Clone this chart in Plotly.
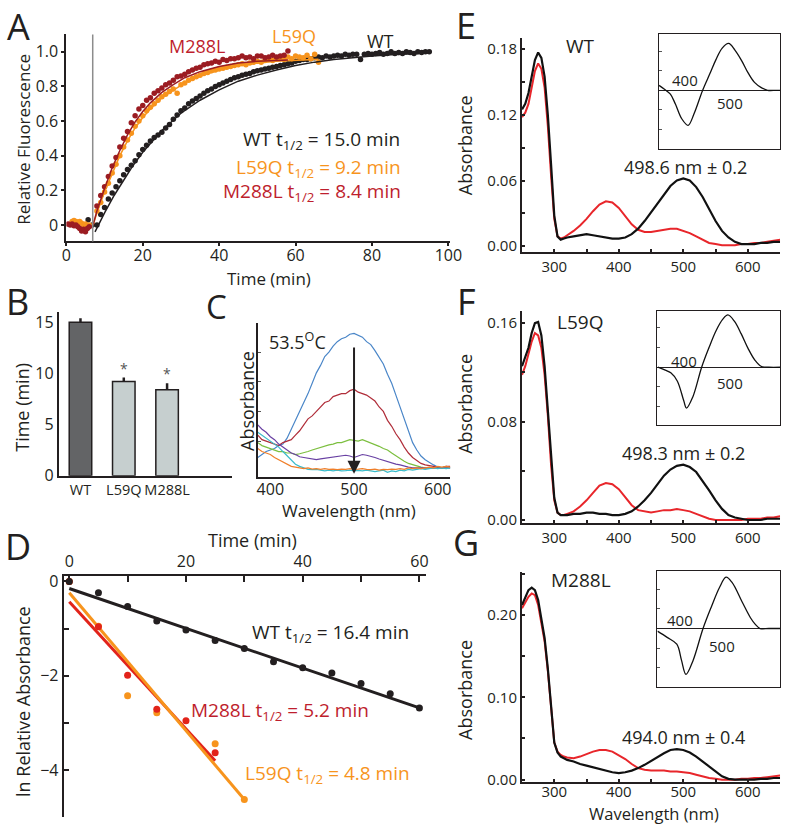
import plotly.graph_objects as go

W, H = 796, 835
FONT = "Open Sans"
BLACK = "#231F20"
ORANGE = "#F7941D"
DARKRED = "#9B1C22"
CRIMSON = "#BE1E2D"
RED = "#E2231A"
SPECRED = "#E8262B"


def px(x):
    return x / W


def py(y):
    return 1 - y / H


# ---------------- Panel A data ----------------
a_injection_time = 6.9
a_wt_time = [5.7, 6.8] + list(range(8, 96))
a_wt_val = [0.03, 0.0,
            0.00, 0.06, 0.10, 0.15, 0.185, 0.22, 0.255, 0.29, 0.32, 0.345,
            0.37, 0.405, 0.435, 0.46, 0.485, 0.505, 0.52, 0.535, 0.56, 0.58,
            0.61, 0.635, 0.66, 0.675, 0.70, 0.715, 0.73, 0.745, 0.76, 0.775,
            0.785, 0.80, 0.81, 0.82, 0.83, 0.84, 0.85, 0.855, 0.865, 0.87,
            0.875, 0.885, 0.89, 0.895, 0.90, 0.905, 0.91, 0.915, 0.92, 0.925,
            0.93, 0.935, 0.945, 0.95, 0.955, 0.955, 0.96, 0.965, 0.97, 0.965,
            0.975, 0.97, 0.975, 0.98, 0.975, 0.985, 0.98, 0.985, 0.985, 0.955,
            0.985, 0.99, 0.985, 0.99, 0.995, 0.985, 0.99, 1.0, 0.99, 0.995,
            0.99, 1.0, 0.995, 0.99, 1.0, 0.995, 1.0, 1.0]
a_l59q_time = [1.5, 2, 2.5, 3, 3.5, 4, 4.5, 5, 5.5, 6] + list(range(8, 67))
a_l59q_val = [0.02, 0.025, 0.02, 0.015, 0.02, 0.01, 0.0, 0.005, -0.01, 0.0,
              0.08, 0.13, 0.19, 0.24, 0.30, 0.35, 0.40, 0.45, 0.49, 0.53,
              0.57, 0.60, 0.63, 0.66, 0.68, 0.70, 0.72, 0.74, 0.755, 0.77,
              0.785, 0.76, 0.81, 0.82, 0.835, 0.845, 0.855, 0.865, 0.875, 0.88,
              0.89, 0.895, 0.90, 0.905, 0.91, 0.915, 0.92, 0.925, 0.93, 0.925,
              0.935, 0.94, 0.945, 0.94, 0.95, 0.955, 0.95, 0.96, 0.965, 0.955,
              0.97, 0.96, 0.975, 0.97, 0.965, 0.98, 0.96, 0.985, 0.94]
a_m288l_time = [0.5, 1, 1.5, 2, 2.5, 3, 3.5, 4, 4.5, 5, 5.5, 6] + list(range(8, 59))
a_m288l_val = [0.005, 0.0, 0.005, -0.005, 0.0, -0.01, -0.02, -0.035, -0.025, -0.04, -0.02, -0.01,
               0.11, 0.17, 0.22, 0.28, 0.34, 0.39, 0.45, 0.50, 0.54, 0.59,
               0.63, 0.67, 0.69, 0.72, 0.735, 0.76, 0.775, 0.79, 0.81, 0.82,
               0.835, 0.855, 0.86, 0.87, 0.885, 0.895, 0.905, 0.91, 0.925, 0.93,
               0.935, 0.945, 0.94, 0.955, 0.95, 0.96, 0.96, 0.965, 0.975, 0.965,
               0.97, 0.96, 0.975, 0.975, 0.965, 0.97, 0.98, 0.97, 0.975, 0.98,
               1.005]
a_wt_fit_time = [7.5, 10, 12.5, 15, 17.5, 20, 25, 30, 35, 40, 45, 50, 55, 60, 65, 70, 75, 80, 85, 90, 95]
a_wt_fit_val = [-0.04, 0.07, 0.17, 0.26, 0.345, 0.42, 0.545, 0.645, 0.72, 0.78, 0.83, 0.865,
                0.895, 0.92, 0.94, 0.955, 0.967, 0.976, 0.983, 0.988, 0.992]
a_l59q_fit_time = [7, 8, 10, 12, 14, 16, 18, 20, 22, 25, 28, 31, 35, 40, 45, 50, 55, 60, 66]
a_l59q_fit_val = [0.0, 0.07, 0.19, 0.30, 0.40, 0.485, 0.56, 0.62, 0.67, 0.735, 0.78, 0.82,
                  0.86, 0.895, 0.92, 0.935, 0.945, 0.952, 0.957]
a_m288l_fit_time = [7, 8, 10, 12, 14, 16, 18, 20, 22, 25, 28, 31, 35, 40, 45, 50, 55, 58]
a_m288l_fit_val = [0.0, 0.08, 0.21, 0.33, 0.43, 0.52, 0.595, 0.655, 0.705, 0.765, 0.81, 0.85,
                   0.885, 0.915, 0.935, 0.945, 0.95, 0.953]

# ---------------- Panel B data ----------------
b_categories = ["WT", "L59Q", "M288L"]
b_values = [15.0, 9.2, 8.4]
b_errors = [0.4, 0.4, 0.65]
b_colors = ["#636466", "#C6CFCF", "#C6CFCF"]
b_significant = [False, True, True]

# ---------------- Panel C data ----------------
c_wavelength = list(range(385, 616, 5))
c_blue = [0.09, 0.11, 0.13, 0.14, 0.15, 0.17, 0.18, 0.22, 0.28, 0.33,
          0.39, 0.46, 0.52, 0.59, 0.66, 0.71, 0.77, 0.80, 0.84, 0.87,
          0.89, 0.90, 0.92, 0.925, 0.91, 0.90, 0.87, 0.85, 0.81, 0.76,
          0.72, 0.65, 0.59, 0.51, 0.43, 0.35, 0.26, 0.19, 0.14, 0.10,
          0.075, 0.055, 0.04, 0.025, 0.02, 0.03, 0.02]
c_red = [0.24, 0.21, 0.20, 0.19, 0.18, 0.17, 0.19, 0.20, 0.21, 0.24,
         0.27, 0.31, 0.35, 0.37, 0.40, 0.43, 0.46, 0.47, 0.50, 0.51,
         0.52, 0.52, 0.54, 0.55, 0.53, 0.52, 0.51, 0.49, 0.47, 0.43,
         0.40, 0.34, 0.30, 0.25, 0.21, 0.16, 0.12, 0.09, 0.07, 0.05,
         0.04, 0.035, 0.03, 0.03, 0.02, 0.03, 0.03]
c_green = [0.19, 0.17, 0.16, 0.15, 0.14, 0.13, 0.13, 0.12, 0.12, 0.11,
           0.115, 0.12, 0.13, 0.14, 0.15, 0.16, 0.17, 0.175, 0.18, 0.19,
           0.19, 0.20, 0.21, 0.205, 0.20, 0.21, 0.20, 0.19, 0.18, 0.165,
           0.15, 0.14, 0.12, 0.10, 0.085, 0.065, 0.05, 0.04, 0.03, 0.025,
           0.02, 0.02, 0.02, 0.025, 0.02, 0.025, 0.02]
c_purple = [0.31, 0.28, 0.26, 0.23, 0.21, 0.18, 0.16, 0.14, 0.12, 0.11,
            0.095, 0.09, 0.085, 0.08, 0.075, 0.08, 0.085, 0.09, 0.09, 0.095,
            0.10, 0.105, 0.10, 0.09, 0.10, 0.11, 0.105, 0.10, 0.09, 0.08,
            0.07, 0.065, 0.055, 0.045, 0.04, 0.03, 0.025, 0.02, 0.02, 0.025,
            0.02, 0.02, 0.025, 0.02, 0.02, 0.025, 0.02]
c_cyan = [0.26, 0.24, 0.22, 0.20, 0.18, 0.16, 0.13, 0.10, 0.07, 0.045,
          0.03, 0.02, 0.01, 0.008, 0.01, 0.005, 0.0, 0.005, 0.0, 0.005,
          0.0, 0.002, 0.005, 0.0, 0.003, 0.0, 0.005, 0.0, -0.005, 0.0,
          0.005, -0.01, 0.0, -0.005, 0.005, 0.0, 0.01, 0.005, 0.01, 0.015,
          0.01, 0.015, 0.02, 0.015, 0.02, 0.015, 0.02]
c_orange = [0.15, 0.13, 0.12, 0.11, 0.09, 0.075, 0.06, 0.045, 0.03, 0.025,
            0.02, 0.015, 0.02, 0.012, 0.015, 0.01, 0.015, 0.01, 0.012, 0.008,
            0.012, 0.01, 0.015, 0.01, 0.012, 0.015, 0.01, 0.008, 0.012, 0.005,
            0.01, 0.008, 0.012, 0.01, 0.015, 0.01, 0.02, 0.015, 0.02, 0.015,
            0.02, 0.025, 0.02, 0.03, 0.025, 0.03, 0.025]
c_series = [("#4A86C8", c_blue), ("#B02E3A", c_red), ("#7CBF3F", c_green),
            ("#6941A3", c_purple), ("#3BBCCB", c_cyan), ("#F07F2A", c_orange)]
c_arrow_wavelength = 500
c_arrow_from = 0.84
c_arrow_to = -0.02

# ---------------- Panel D data ----------------
d_wt_time = [0, 5, 10, 15, 20, 25, 30, 35, 40, 45, 50, 55, 60]
d_wt_val = [0.0, -0.24, -0.53, -0.84, -1.03, -1.25, -1.42, -1.70, -1.83, -1.94, -2.16, -2.38, -2.68]
d_wt_fit_time = [0, 60]
d_wt_fit_val = [-0.15, -2.68]
d_l59q_time = [0, 5, 10, 15, 25, 30]
d_l59q_val = [0.0, -0.95, -2.42, -2.78, -3.44, -4.62]
d_l59q_fit_time = [0, 30]
d_l59q_fit_val = [-0.24, -4.62]
d_m288l_time = [0, 5, 10, 15, 20, 25]
d_m288l_val = [0.0, -0.96, -1.99, -2.71, -2.95, -3.63]
d_m288l_fit_time = [0, 25]
d_m288l_fit_val = [-0.43, -3.80]

# ---------------- Panels E, F, G data ----------------
spec_wl = [250, 255, 260, 265, 270, 275, 280, 285, 290, 295, 300, 305, 310, 315, 320,
           330, 340, 350, 360, 370, 380, 390, 400, 410, 420,
           430, 440, 450, 460, 470, 480, 490, 500, 510, 520,
           530, 540, 550, 560, 570, 580, 590, 600, 610, 620,
           630, 640, 650]
e_dark = [0.125, 0.13, 0.14, 0.155, 0.17, 0.177, 0.172, 0.155, 0.12, 0.075, 0.028, 0.009, 0.006, 0.007, 0.008,
          0.009, 0.010, 0.011, 0.010, 0.009, 0.008, 0.007, 0.007, 0.008, 0.011,
          0.016, 0.023, 0.031, 0.040, 0.048, 0.055, 0.060, 0.062, 0.060, 0.054,
          0.045, 0.034, 0.023, 0.014, 0.008, 0.004, 0.002, 0.002, 0.002, 0.003,
          0.003, 0.004, 0.004]
e_light = [0.118, 0.122, 0.13, 0.145, 0.16, 0.167, 0.162, 0.145, 0.11, 0.065, 0.025, 0.009, 0.007, 0.008, 0.010,
           0.014, 0.019, 0.025, 0.032, 0.038, 0.041, 0.040, 0.035, 0.027, 0.020,
           0.015, 0.013, 0.013, 0.014, 0.015, 0.016, 0.016, 0.014, 0.012, 0.009,
           0.006, 0.003, 0.002, 0.001, 0.001, 0.001, 0.002, 0.002, 0.003, 0.003,
           0.004, 0.005, 0.006]
f_dark = [0.125, 0.132, 0.14, 0.152, 0.160, 0.161, 0.15, 0.125, 0.09, 0.05, 0.018, 0.006, 0.004, 0.004, 0.004,
          0.005, 0.005, 0.006, 0.006, 0.005, 0.005, 0.004, 0.004, 0.005, 0.007,
          0.011, 0.016, 0.022, 0.029, 0.036, 0.041, 0.044, 0.045, 0.043, 0.039,
          0.032, 0.024, 0.016, 0.009, 0.004, 0.002, 0.001, 0.0, 0.0, 0.0,
          0.001, 0.001, 0.001]
f_light = [0.118, 0.125, 0.135, 0.145, 0.152, 0.150, 0.14, 0.118, 0.085, 0.045, 0.016, 0.006, 0.004, 0.004, 0.005,
           0.007, 0.011, 0.016, 0.022, 0.028, 0.030, 0.029, 0.025, 0.018, 0.012,
           0.008, 0.007, 0.006, 0.007, 0.008, 0.008, 0.009, 0.008, 0.007, 0.005,
           0.003, 0.001, 0.0, 0.0, 0.0, 0.0, 0.0, 0.001, 0.001, 0.001,
           0.002, 0.002, 0.003]
g_dark = [0.212, 0.222, 0.230, 0.233, 0.230, 0.218, 0.195, 0.172, 0.135, 0.085, 0.045, 0.033, 0.028, 0.026, 0.024,
          0.022, 0.019, 0.017, 0.015, 0.013, 0.011, 0.009, 0.008, 0.009, 0.011,
          0.014, 0.018, 0.023, 0.028, 0.032, 0.036, 0.037, 0.036, 0.033, 0.028,
          0.022, 0.015, 0.009, 0.004, 0.001, 0.0, 0.0, 0.0, 0.0, 0.001,
          0.001, 0.002, 0.002]
g_light = [0.208, 0.215, 0.222, 0.226, 0.224, 0.212, 0.19, 0.168, 0.132, 0.083, 0.045, 0.034, 0.030, 0.028, 0.027,
           0.026, 0.028, 0.031, 0.034, 0.036, 0.036, 0.034, 0.030, 0.025, 0.019,
           0.014, 0.012, 0.011, 0.011, 0.011, 0.010, 0.010, 0.009, 0.008, 0.006,
           0.004, 0.002, 0.001, 0.0, 0.0, 0.0, 0.001, 0.001, 0.002, 0.002,
           0.003, 0.004, 0.005]

# difference-spectrum insets
e_inset_wl = [343, 355, 368, 379, 393, 407, 420, 439, 455, 468, 482, 496, 510, 525, 539, 553, 568, 582, 600, 610]
e_inset_val = [0.005, 0.001, -0.004, -0.014, -0.029, -0.0357, -0.024, 0.0, 0.017, 0.031, 0.043, 0.0477,
               0.041, 0.030, 0.0177, 0.008, 0.0027, 0.0, 0.0, 0.0]
f_inset_wl = [344, 360, 372, 386, 400, 406, 420, 439, 455, 470, 485, 496, 510, 525, 540, 555, 568, 585, 610]
f_inset_val = [0.0, -0.003, -0.0057, -0.014, -0.034, -0.0417, -0.030, 0.0, 0.020, 0.037, 0.049, 0.0533,
               0.047, 0.034, 0.019, 0.007, 0.001, 0.0, 0.0]
g_inset_wl = [343, 364, 385, 395, 405, 420, 442, 460, 478, 492, 505, 527, 545, 556, 566, 585, 610]
g_inset_val = [-0.0027, -0.009, -0.016, -0.032, -0.0467, -0.033, 0.0, 0.022, 0.042, 0.0523, 0.047, 0.027,
               0.011, 0.004, 0.0, 0.0, 0.0]

fig = go.Figure()

# ---- A ----
fig.add_trace(go.Scatter(x=a_wt_time, y=a_wt_val, mode="markers", marker=dict(color=BLACK, size=5.5),
                         xaxis="x", yaxis="y"))
fig.add_trace(go.Scatter(x=a_l59q_time, y=a_l59q_val, mode="markers", marker=dict(color=ORANGE, size=5.5),
                         xaxis="x", yaxis="y"))
fig.add_trace(go.Scatter(x=a_m288l_time, y=a_m288l_val, mode="markers", marker=dict(color=DARKRED, size=5.5),
                         xaxis="x", yaxis="y"))
fig.add_trace(go.Scatter(x=a_wt_fit_time, y=a_wt_fit_val, mode="lines", line=dict(color=BLACK, width=1.5),
                         xaxis="x", yaxis="y"))
fig.add_trace(go.Scatter(x=a_l59q_fit_time, y=a_l59q_fit_val, mode="lines", line=dict(color=ORANGE, width=1.5),
                         xaxis="x", yaxis="y"))
fig.add_trace(go.Scatter(x=a_m288l_fit_time, y=a_m288l_fit_val, mode="lines", line=dict(color=DARKRED, width=1.5),
                         xaxis="x", yaxis="y"))

# ---- B ----
fig.add_trace(go.Bar(x=b_categories, y=b_values, width=0.52,
                     marker=dict(color=b_colors, line=dict(color=BLACK, width=1.5)),
                     error_y=dict(type="data", symmetric=False, array=b_errors, arrayminus=[0] * len(b_errors),
                                  color=BLACK, thickness=2.5, width=0),
                     xaxis="x2", yaxis="y2"))

# ---- C ----
for col, vals in c_series:
    fig.add_trace(go.Scatter(x=c_wavelength, y=vals, mode="lines", line=dict(color=col, width=1.2),
                             xaxis="x3", yaxis="y3"))

# ---- D ----
fig.add_trace(go.Scatter(x=d_wt_fit_time, y=d_wt_fit_val, mode="lines", line=dict(color=BLACK, width=3),
                         xaxis="x4", yaxis="y4"))
fig.add_trace(go.Scatter(x=d_m288l_fit_time, y=d_m288l_fit_val, mode="lines", line=dict(color=RED, width=3),
                         xaxis="x4", yaxis="y4"))
fig.add_trace(go.Scatter(x=d_l59q_fit_time, y=d_l59q_fit_val, mode="lines", line=dict(color=ORANGE, width=3),
                         xaxis="x4", yaxis="y4"))
fig.add_trace(go.Scatter(x=d_l59q_time, y=d_l59q_val, mode="markers", marker=dict(color=ORANGE, size=7),
                         xaxis="x4", yaxis="y4"))
fig.add_trace(go.Scatter(x=d_m288l_time, y=d_m288l_val, mode="markers", marker=dict(color=RED, size=7),
                         xaxis="x4", yaxis="y4"))
fig.add_trace(go.Scatter(x=d_wt_time, y=d_wt_val, mode="markers", marker=dict(color=BLACK, size=7),
                         xaxis="x4", yaxis="y4"))

# ---- E, F, G ----
for dark, light, xa, ya in [(e_dark, e_light, "x5", "y5"), (f_dark, f_light, "x7", "y7"),
                            (g_dark, g_light, "x9", "y9")]:
    fig.add_trace(go.Scatter(x=spec_wl, y=light, mode="lines", line=dict(color=SPECRED, width=2),
                             xaxis=xa, yaxis=ya))
    fig.add_trace(go.Scatter(x=spec_wl, y=dark, mode="lines", line=dict(color="#111111", width=2.2),
                             xaxis=xa, yaxis=ya))
for wl, vals, xa, ya in [(e_inset_wl, e_inset_val, "x6", "y6"), (f_inset_wl, f_inset_val, "x8", "y8"),
                         (g_inset_wl, g_inset_val, "x10", "y10")]:
    fig.add_trace(go.Scatter(x=wl, y=vals, mode="lines", line=dict(color="#111111", width=1.3, shape="spline"),
                             xaxis=xa, yaxis=ya))


def axis(domain, rng, anchor, size=16, **kw):
    d = dict(domain=domain, range=rng, anchor=anchor, showline=True, linecolor=BLACK, linewidth=2,
             showgrid=False, zeroline=False, ticks="outside", ticklen=3, tickwidth=1.5, tickcolor=BLACK,
             tickfont=dict(size=size, color=BLACK, family=FONT), fixedrange=True, tickangle=0)
    d.update(kw)
    return d


def inset_axes(xd, yd, yr, anchor_x, anchor_y):
    xa = dict(domain=xd, range=[343, 610], anchor=anchor_y, showline=True, mirror=True, linecolor=BLACK,
              linewidth=1, showgrid=False, zeroline=False, ticks="", showticklabels=False, fixedrange=True)
    ya = dict(domain=yd, range=yr, anchor=anchor_x, showline=True, mirror=True, linecolor=BLACK,
              linewidth=1, showgrid=False, zeroline=True, zerolinecolor=BLACK, zerolinewidth=1,
              ticks="", showticklabels=False, fixedrange=True,
              minor=dict(dtick=0.02, tick0=0, ticks="inside", ticklen=3, tickwidth=1, tickcolor="#555",
                         showgrid=False))
    return xa, ya


spec_minor_x = dict(dtick=50, tick0=0, ticks="inside", ticklen=3, tickcolor=BLACK, showgrid=False)

ix6, iy6 = inset_axes([px(668.3), px(792.3)], [py(146.7), py(29.3)], [-0.0597, 0.0576], "x6", "y6")
ix8, iy8 = inset_axes([px(666.7), px(792.3)], [py(428.3), py(311.7)], [-0.059, 0.0576], "x8", "y8")
ix10, iy10 = inset_axes([px(666.7), px(792.3)], [py(695), py(576.7)], [-0.0593, 0.059], "x10", "y10")

fig.update_layout(
    width=W, height=H, margin=dict(l=0, r=0, t=0, b=0),
    paper_bgcolor="white", plot_bgcolor="rgba(0,0,0,0)", showlegend=False,
    font=dict(family=FONT, color=BLACK),
    xaxis=axis([px(62.7), px(455)], [0, 100.5], "y", tickvals=[0, 20, 40, 60, 80, 100],
               ticklabelstandoff=-5),
    yaxis=axis([py(241), py(30)], [-0.095, 1.10], "x", tickvals=[0, 0.2, 0.4, 0.6, 0.8, 1.0],
               ticktext=["0", "0.2", "0.4", "0.6", "0.8", "1.0"]),
    xaxis2=axis([px(55), px(232)], [-0.5, 3.5], "y2", size=14.5, type="category", ticks=""),
    yaxis2=axis([py(480), py(313)], [0, 16], "x2", tickvals=[0, 5, 10, 15], ticks=""),
    xaxis3=axis([px(258.3), px(455)], [385, 615], "y3", tickvals=[400, 500, 600], ticks="",
                ticklabelstandoff=-3),
    yaxis3=axis([py(481), py(324)], [-0.04, 0.997], "x3", showticklabels=False, ticks="",
                minor=dict(dtick=0.2, tick0=0, ticks="inside", ticklen=3, tickwidth=1, tickcolor="#555",
                           showgrid=False)),
    xaxis4=axis([px(60), px(430)], [-0.95, 61.1], "y4", side="top", tickvals=[0, 20, 40, 60],
                ticks="inside", ticklen=6, tickwidth=2,
                minor=dict(dtick=10, tick0=0, ticks="inside", ticklen=6, tickwidth=2, tickcolor=BLACK,
                           showgrid=False)),
    yaxis4=axis([py(828.3), py(581.7)], [-5.0, 0.125], "x4", tickvals=[0, -2, -4], ticks="inside",
                ticklen=5, tickwidth=2,
                minor=dict(dtick=1, tick0=0, ticks="inside", ticklen=5, tickwidth=2, tickcolor=BLACK,
                           showgrid=False)),
    xaxis5=axis([px(528.3), px(792)], [250, 650], "y5", size=15, tickvals=[300, 400, 500, 600],
                ticks="inside", minor=spec_minor_x),
    yaxis5=axis([py(252.3), py(33.3)], [-0.0057, 0.1905], "x5", size=15, tickvals=[0, 0.06, 0.12, 0.18],
                ticktext=["0.00", "0.06", "0.12", "0.18"], ticks="inside",
                minor=dict(dtick=0.03, tick0=0, ticks="inside", ticklen=3, tickcolor=BLACK, showgrid=False)),
    xaxis6=ix6, yaxis6=iy6,
    xaxis7=axis([px(528.3), px(792)], [250, 650], "y7", size=15, tickvals=[300, 400, 500, 600],
                ticks="inside", minor=spec_minor_x),
    yaxis7=axis([py(528.3), py(311.7)], [-0.0026, 0.1701], "x7", size=15, tickvals=[0, 0.08, 0.16],
                ticktext=["0.00", "0.08", "0.16"], ticks="inside",
                minor=dict(dtick=0.04, tick0=0, ticks="inside", ticklen=3, tickcolor=BLACK, showgrid=False)),
    xaxis8=ix8, yaxis8=iy8,
    xaxis9=axis([px(528.3), px(792)], [250, 650], "y9", size=15, tickvals=[300, 400, 500, 600],
                ticks="inside", minor=spec_minor_x, ticklabelstandoff=-5),
    yaxis9=axis([py(792.3), py(577.7)], [-0.003, 0.2525], "x9", size=15, tickvals=[0, 0.10, 0.20],
                ticktext=["0.00", "0.10", "0.20"], ticks="inside",
                minor=dict(dtick=0.05, tick0=0, ticks="inside", ticklen=3, tickcolor=BLACK, showgrid=False)),
    xaxis10=ix10, yaxis10=iy10,
)

# gray injection marker in A
fig.add_shape(type="line", xref="x", yref="y domain", x0=a_injection_time, x1=a_injection_time, y0=0, y1=1,
              line=dict(color="#8C8C8C", width=1.5))

ann = []


def half_life(name, value):
    return name + " t<sub>1/2</sub> = " + value + " min"


def txt(x, y, s, size=18, color=BLACK, xanchor="center", yanchor="middle", angle=0):
    ann.append(dict(x=px(x), y=py(y), xref="paper", yref="paper", text=s, showarrow=False,
                    font=dict(size=size, color=color, family=FONT), xanchor=xanchor, yanchor=yanchor,
                    textangle=angle))


# panel letters
for letter, x, y, s in [("A", 14, 22, 36), ("B", 13, 302, 36), ("C", 216, 307, 33), ("D", 13, 552, 36),
                        ("E", 471, 21, 36), ("F", 472, 302, 36), ("G", 471, 548, 36)]:
    txt(x, y, letter, size=s)

# A text
txt(196.7, 41.7, "M288L", 18, CRIMSON)
txt(295, 31.7, "L59Q", 18, ORANGE)
txt(383.3, 36.7, "WT", 18, BLACK)
txt(406, 138, half_life("WT", "15.0"), 19, BLACK, xanchor="right")
txt(407, 166, half_life("L59Q", "9.2"), 19, ORANGE, xanchor="right")
txt(407, 191, half_life("M288L", "8.4"), 19, CRIMSON, xanchor="right")
txt(270, 279, "Time (min)", 17)
txt(18, 136.7, "Relative Fluorescence", 17, angle=-90)

# B text
txt(18, 410, "Time (min)", 18, angle=-90)
for cat, v, e, sig in zip(b_categories, b_values, b_errors, b_significant):
    if sig:
        ann.append(dict(x=cat, y=v + e + 0.9, xref="x2", yref="y2", text="*", showarrow=False,
                        font=dict(size=14, color="#555555", family=FONT)))

# C text
txt(248, 404, "Absorbance", 18, angle=-90)
txt(352, 515, "Wavelength (nm)", 17)
txt(268, 343, "53.5<sup>O</sup>C", 18, xanchor="left")
ann.append(dict(x=c_arrow_wavelength, y=c_arrow_to, ax=c_arrow_wavelength, ay=c_arrow_from,
                xref="x3", yref="y3", axref="x3", ayref="y3", text="", showarrow=True,
                arrowhead=2, arrowsize=1.3, arrowwidth=2, arrowcolor=BLACK))

# D text
txt(253, 545, "Time (min)", 18)
txt(19, 710, "ln Relative Absorbance", 18, angle=-90)
txt(250, 640, half_life("WT", "16.4"), 19, BLACK, xanchor="left")
txt(188, 720, half_life("M288L", "5.2"), 19, CRIMSON, xanchor="left")
txt(243, 784, half_life("L59Q", "4.8"), 19, ORANGE, xanchor="left")

# E/F/G text
txt(588.3, 41.7, "WT", 19)
txt(588, 323.3, "L59Q", 19)
txt(588.3, 586.7, "M288L", 19)
txt(695, 165, "498.6 nm ± 0.2", 18)
txt(693.3, 456.7, "498.3 nm ± 0.2", 18)
txt(693.3, 746.7, "494.0 nm ± 0.4", 18)
for yc in (143, 406.7, 698.3):
    txt(470, yc, "Absorbance", 18, angle=-90)
txt(663.3, 824, "Wavelength (nm)", 16.5)

# inset labels
for xa, ya, x4, y4, x5, y5 in [("x6", "y6", 400, 0.010, 500, -0.013),
                               ("x8", "y8", 400, 0.006, 500, -0.0157),
                               ("x10", "y10", 393, 0.009, 483, -0.0176)]:
    ann.append(dict(x=x4, y=y4, xref=xa, yref=ya, text="400", showarrow=False,
                    font=dict(size=15, color=BLACK, family=FONT)))
    ann.append(dict(x=x5, y=y5, xref=xa, yref=ya, text="500", showarrow=False,
                    font=dict(size=15, color=BLACK, family=FONT)))

fig.update_layout(annotations=ann)
fig.write_html("out.html", config={"displayModeBar": False},
               post_script="document.body.style.margin='0px';")
